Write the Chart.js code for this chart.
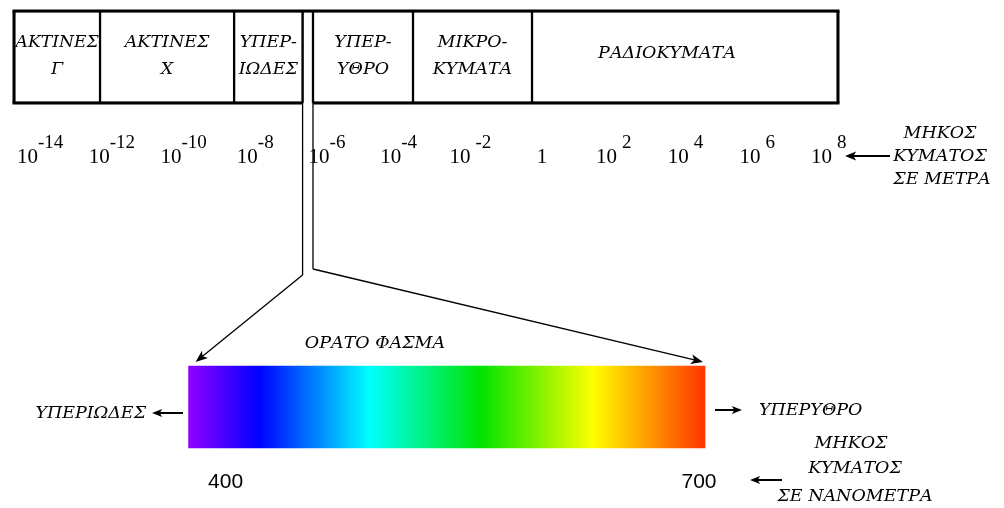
<!DOCTYPE html>
<html>
<head>
<meta charset="utf-8">
<script src="https://cdn.jsdelivr.net/npm/chart.js@4"></script>
<style>
  html, body { margin: 0; padding: 0; background: #fff; }
  #wrap { width: 1004px; height: 508px; position: relative; }
</style>
</head>
<body>
<div id="wrap"><canvas id="spectrum"></canvas></div>
<script>
// Bands of the spectrum, edges in log10(wavelength in metres)
const bandNames = [['ΑΚΤΙΝΕΣ', 'Γ'], ['ΑΚΤΙΝΕΣ', 'Χ'], ['ΥΠΕΡ-', 'ΙΩΔΕΣ'], [], ['ΥΠΕΡ-', 'ΥΘΡΟ'], ['ΜΙΚΡΟ-', 'ΚΥΜΑΤΑ'], ['ΡΑΔΙΟΚΥΜΑΤΑ']];
const bandFrom = [-14.73, -12.33, -8.59, -6.68, -6.39, -3.60, -0.28];
const bandTo = [-12.33, -8.59, -6.68, -6.39, -3.60, -0.28, 8.255];

// Tick labels of the metre scale (exponents of 10)
const tickExp = [-14, -12, -10, -8, -6, -4, -2, 0, 2, 4, 6, 8];

// Visible part, in nanometres
const visibleNm = [400, 700];
const colourNm = [400, 441, 505, 570, 635, 700];
const colourHex = ['#9000ff', '#0000ff', '#00ffff', '#00e400', '#ffff00', '#ff3300'];

const GREEK = 'italic 17.5px "DejaVu Serif"';
const BAND_H = 92;
const SPEC_H = 82;

function spectrumFill(context) {
    const chart = context.chart;
    const nm = chart.scales.nm;
    if (!chart.chartArea || !nm) return '#888';
    const x0 = nm.getPixelForValue(visibleNm[0]);
    const x1 = nm.getPixelForValue(visibleNm[1]);
    const g = chart.ctx.createLinearGradient(x0, 0, x1, 0);
    colourNm.forEach((w, i) => {
        g.addColorStop((w - visibleNm[0]) / (visibleNm[1] - visibleNm[0]), colourHex[i]);
    });
    return g;
}

function line(c, pts, width) {
    c.beginPath();
    c.lineWidth = width;
    c.moveTo(pts[0][0], pts[0][1]);
    for (let i = 1; i < pts.length; i++) c.lineTo(pts[i][0], pts[i][1]);
    c.stroke();
}

function arrow(c, fx, fy, tx, ty, width, head) {
    const a = Math.atan2(ty - fy, tx - fx);
    line(c, [[fx, fy], [tx - head * 0.6 * Math.cos(a), ty - head * 0.6 * Math.sin(a)]], width);
    c.beginPath();
    c.moveTo(tx, ty);
    c.lineTo(tx - head * Math.cos(a - 0.38), ty - head * Math.sin(a - 0.38));
    c.lineTo(tx - head * 0.7 * Math.cos(a), ty - head * 0.7 * Math.sin(a));
    c.lineTo(tx - head * Math.cos(a + 0.38), ty - head * Math.sin(a + 0.38));
    c.closePath();
    c.fill();
}

const drawDiagram = {
    id: 'drawDiagram',
    afterDatasetsDraw(chart) {
        const c = chart.ctx;
        const xs = chart.scales.x, nm = chart.scales.nm, ys = chart.scales.y;

        c.save();
        c.strokeStyle = '#000';
        c.fillStyle = '#000';

        // outer frame of the band box
        const left = xs.getPixelForValue(bandFrom[0]);
        const right = xs.getPixelForValue(bandTo[bandTo.length - 1]);
        const visL = xs.getPixelForValue(bandFrom[3]);
        const visR = xs.getPixelForValue(bandTo[3]);
        const cy = ys.getPixelForValue(0);
        const top = cy - BAND_H / 2, bottom = cy + BAND_H / 2;
        line(c, [[left - 1.5, top], [right + 1.5, top]], 3);
        line(c, [[left, top], [left, bottom]], 3);
        line(c, [[right, top], [right, bottom]], 3);
        line(c, [[left - 1.5, bottom], [visL, bottom]], 3);
        line(c, [[visR, bottom], [right + 1.5, bottom]], 3);

        // band names
        c.font = GREEK;
        c.textAlign = 'center';
        c.textBaseline = 'middle';
        bandNames.forEach((names, i) => {
            const a = xs.getPixelForValue(bandFrom[i]), b = xs.getPixelForValue(bandTo[i]);
            const cx = (a + b) / 2;
            const w = b - a - 3;
            if (names.length === 1) c.fillText(names[0], cx - 18, cy - 4, w);
            if (names.length === 2) {
                c.fillText(names[0], cx, cy - 15, w);
                c.fillText(names[1], cx, cy + 12, w);
            }
        });

        // lines from the visible strip down to the spectrum bar
        const sx0 = nm.getPixelForValue(visibleNm[0]);
        const sx1 = nm.getPixelForValue(visibleNm[1]);
        const spTop = ys.getPixelForValue(1) - SPEC_H / 2;
        line(c, [[visL, top], [visL, 275]], 1.3);
        arrow(c, visL, 275, sx0 + 7, spTop - 4, 1.3, 13);
        line(c, [[visR, top], [visR, 269]], 1.3);
        arrow(c, visR, 269, sx1 - 2, spTop - 4, 1.3, 13);

        // tick labels of the metre scale
        c.textAlign = 'left';
        c.textBaseline = 'alphabetic';
        tickExp.forEach(e => {
            const px = xs.getPixelForValue(e);
            c.font = '21px "Liberation Serif"';
            if (e === 0) {
                c.textAlign = 'center';
                c.fillText('1', px, 163);
                c.textAlign = 'left';
                return;
            }
            const base = '10';
            const sup = String(e);
            const bw = c.measureText(base).width;
            c.font = '19px "Liberation Serif"';
            const gap = e > 0 || e === -2 ? 5 : 0;
            const sw = c.measureText(sup).width;
            const x0 = px - (bw + gap + sw) / 2;
            c.font = '21px "Liberation Serif"';
            c.fillText(base, x0, 163);
            c.font = '19px "Liberation Serif"';
            c.fillText(sup, x0 + bw + gap, 148);
        });

        // metre caption
        c.font = GREEK;
        c.textAlign = 'center';
        c.textBaseline = 'middle';
        c.fillText('ΜΗΚΟΣ', 940, 133);
        c.fillText('ΚΥΜΑΤΟΣ', 940, 156);
        c.fillText('ΣΕ ΜΕΤΡΑ', 942, 179);
        arrow(c, 890, 156, 845, 156, 2, 12);

        // visible spectrum captions
        c.fillText('ΟΡΑΤΟ ΦΑΣΜΑ', 375, 343);
        c.textAlign = 'right';
        c.fillText('ΥΠΕΡΙΩΔΕΣ', 146, 413);
        arrow(c, 183, 413, 152, 413, 2, 11);
        c.textAlign = 'left';
        arrow(c, 715, 410, 742, 410, 2, 11);
        c.fillText('ΥΠΕΡΥΘΡΟ', 759, 410);
        c.textAlign = 'center';
        c.fillText('ΜΗΚΟΣ', 851, 443);
        c.fillText('ΚΥΜΑΤΟΣ', 855, 468);
        c.fillText('ΣΕ ΝΑΝΟΜΕΤΡΑ', 855, 496);
        arrow(c, 782, 480, 750, 480, 2, 11);

        // nanometre labels
        c.font = '21px "Liberation Sans"';
        c.fillText(String(visibleNm[0]), sx0 + 37, 482);
        c.fillText(String(visibleNm[1]), sx1 - 6, 482);
        c.restore();
    }
};

new Chart(document.getElementById('spectrum'), {
    type: 'bar',
    data: {
        labels: ['ΦΑΣΜΑ', 'ΟΡΑΤΟ'],
        datasets: [{
            label: 'ΦΑΣΜΑ',
            data: bandFrom.map((f, i) => ({ y: 'ΦΑΣΜΑ', x: [f, bandTo[i]] })),
            xAxisID: 'x',
            backgroundColor: '#fff',
            borderColor: '#000',
            borderWidth: 1.5,
            borderSkipped: ctx => ctx.dataIndex === 3 ? 'bottom' : false,
            barThickness: BAND_H,
            grouped: false,
            clip: false
        }, {
            label: 'ΟΡΑΤΟ ΦΑΣΜΑ',
            data: [{ y: 'ΟΡΑΤΟ', x: visibleNm }],
            xAxisID: 'nm',
            backgroundColor: spectrumFill,
            borderWidth: 0,
            barThickness: SPEC_H,
            grouped: false,
            clip: false
        }]
    },
    options: {
        indexAxis: 'y',
        responsive: true,
        maintainAspectRatio: false,
        animation: false,
        layout: { padding: { left: 14, right: 166, top: 57, bottom: 101 } },
        plugins: {
            legend: { display: false },
            tooltip: { enabled: false }
        },
        scales: {
            x: { type: 'linear', min: bandFrom[0], max: bandTo[bandTo.length - 1], display: false },
            nm: { type: 'linear', axis: 'x', min: 298.57, max: 777.27, display: false },
            y: { type: 'category', offset: false, display: false }
        }
    },
    plugins: [drawDiagram]
});
</script>
</body>
</html>
